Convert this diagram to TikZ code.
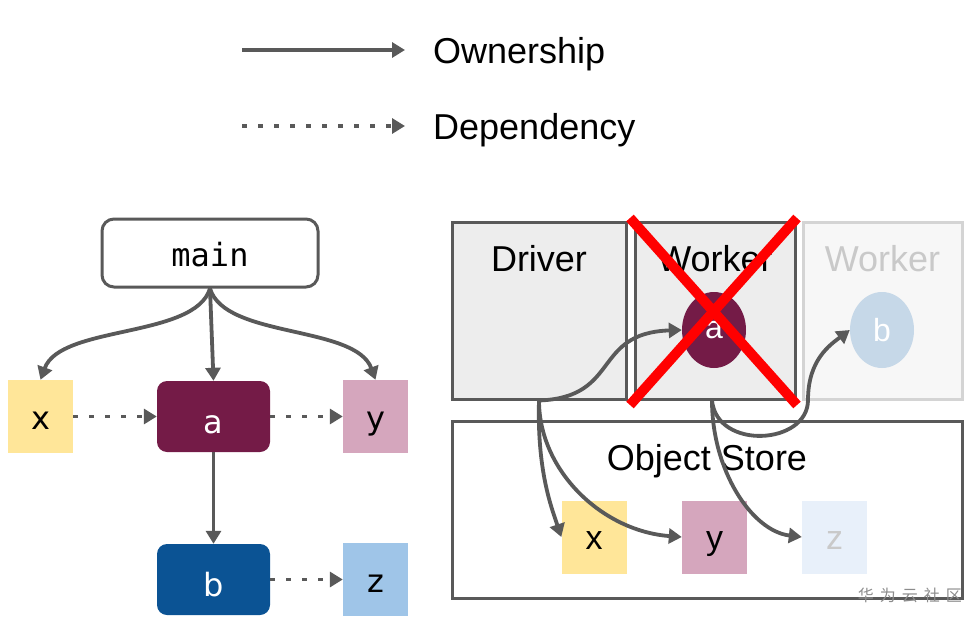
\documentclass[tikz,border=0pt]{standalone}
\usepackage{fontspec}
\setmainfont{Liberation Sans}
\newfontfamily\codefont{DejaVu Sans Mono}
\newfontfamily\varfont{DejaVu Sans}
\newfontfamily\cjk{Noto Sans CJK SC}
\usepackage{xcolor}
\usepackage{tikz}
\usetikzlibrary{arrows.meta, shapes.geometric}

\definecolor{linegray}{HTML}{595959}
\definecolor{xyellow}{HTML}{FFE699}
\definecolor{amaroon}{HTML}{741B47}
\definecolor{ypink}{HTML}{D5A6BD}
\definecolor{bblue}{HTML}{0B5394}
\definecolor{zblue}{HTML}{9FC5E8}
\definecolor{boxgray}{HTML}{EDEDED}
\definecolor{fadegray}{HTML}{D4D4D4}
\definecolor{fadetext}{HTML}{C9C9C9}
\definecolor{fadeb}{HTML}{C6D8E8}
\definecolor{fadez}{HTML}{E8F0FA}

\begin{document}
\begin{tikzpicture}[x=1pt, y=-1pt,
  own/.style={draw=linegray, line width=3.8pt, -{Triangle[length=13pt,width=15pt]}},
  dep/.style={own, dash pattern=on 4.5pt off 11.5pt},
  big/.style={font=\fontsize{36}{40}\selectfont, inner sep=0pt},
  letter/.style={font=\varfont\fontsize{32}{36}\selectfont},
  box/.style={minimum width=65pt, minimum height=73pt, inner sep=0pt, text height=26pt, text depth=0pt},
  task/.style={minimum width=113pt, minimum height=71pt, inner sep=0pt, rounded corners=10pt,
    text height=33pt, text depth=0pt},
  machine/.style={draw=linegray, line width=3pt, fill=boxgray, minimum height=177pt, inner sep=0pt},
  obj/.style={ellipse, minimum width=64pt, minimum height=76pt, inner sep=0pt,
    font=\fontsize{32}{36}\selectfont, text=white},
  stored/.style={box, font=\fontsize{34}{38}\selectfont, text height=25pt}]
\useasboundingbox (0,0) rectangle (975,621);

\coordinate (own-a) at (242,50);
\coordinate (own-b) at (405,50);
\coordinate (dep-a) at (242,126);
\coordinate (dep-b) at (405,126);
\draw[own] (own-a) -- (own-b);
\draw[dep] (dep-a) -- (dep-b);
\node[big, anchor=base west] (ownership) at (433,63) {Ownership};
\node[big, anchor=base west] (dependency) at (433,139) {Dependency};

\node[draw=linegray, line width=3pt, rounded corners=12pt, minimum width=216pt, minimum height=68pt,
  text height=26pt, text depth=0pt, font=\codefont\fontsize{32}{36}\selectfont] (main) at (210,253) {main};
\node[box, letter, fill=xyellow] (x) at (40.5,416.5) {x};
\node[task, letter, fill=amaroon, text=white] (a) at (213.5,416.5) {a};
\node[box, letter, fill=ypink] (y) at (375.5,416.5) {y};
\node[task, letter, fill=bblue, text=white] (b) at (213.5,579.5) {b};
\node[box, letter, fill=zblue] (z) at (375.5,579.5) {z};

\draw[own] (main.south) .. controls +(-15,50) and +(20,-55) .. (x.north);
\draw[own] (main.south) -- (a.north);
\draw[own] (main.south) .. controls +(15,50) and +(-20,-55) .. (y.north);
\draw[dep] (x.east) -- (a.west);
\draw[dep] (a.east) -- (y.west);
\draw[own] (a.south) -- (b.north);
\draw[dep] (b.east) -- (z.west);

\node[machine, minimum width=174pt] (driver) at (539,310.5) {};
\node[big, anchor=base] (driver-t) at (539,271) {Driver};
\node[machine, minimum width=160pt] (worker) at (715,310.5) {};
\node[big, anchor=base] (worker-t) at (715,271) {Worker};
\node[machine, minimum width=159pt, draw=fadegray, fill=white!97!black] (worker2) at (882.5,310.5) {};
\node[big, anchor=base, text=fadetext] (worker2-t) at (882.5,271) {Worker};
\node[obj, fill=amaroon] (ca) at (714,330) {a};
\node[obj, fill=fadeb] (cb) at (882,330) {b};

\node[draw=linegray, line width=3pt, minimum width=510pt, minimum height=177pt] (store) at (707,509.5) {};
\node[big, anchor=base] (store-t) at (707,470) {Object Store};
\node[stored, fill=xyellow] (x2) at (594,537) {x};
\node[stored, fill=ypink] (y2) at (714.5,537) {y};
\node[stored, fill=fadez, text=fadetext] (z2) at (834.5,537) {z};

\draw[own] (driver.south) .. controls +(82,-3) and +(-90,3) .. (ca.west);
\draw[own] (driver.south) .. controls +(-2,70) and +(-10,-30) .. (x2.west);
\draw[own] (driver.south) .. controls +(0,70) and +(-80,-6) .. (y2.west);
\draw[own] ([xshift=-3pt]worker.south) .. controls +(0,70) and +(-50,-6) .. (z2.west);
\draw[own] ([xshift=-3pt]worker.south) .. controls +(5,50) and +(0,45) .. (808,400)
  .. controls +(0,-40) and +(-20,15) .. (cb.west);

\draw[red, line width=10pt] (630,218) -- (797,405) (797,218) -- (630,405);

\node[font=\cjk\fontsize{16}{18}\selectfont, text=black!45, anchor=base east, inner sep=0pt] (mark) at (962,601)
  {华\hspace{6pt}为\hspace{6pt}云\hspace{6pt}社\hspace{6pt}区};
\end{tikzpicture}
\end{document}
